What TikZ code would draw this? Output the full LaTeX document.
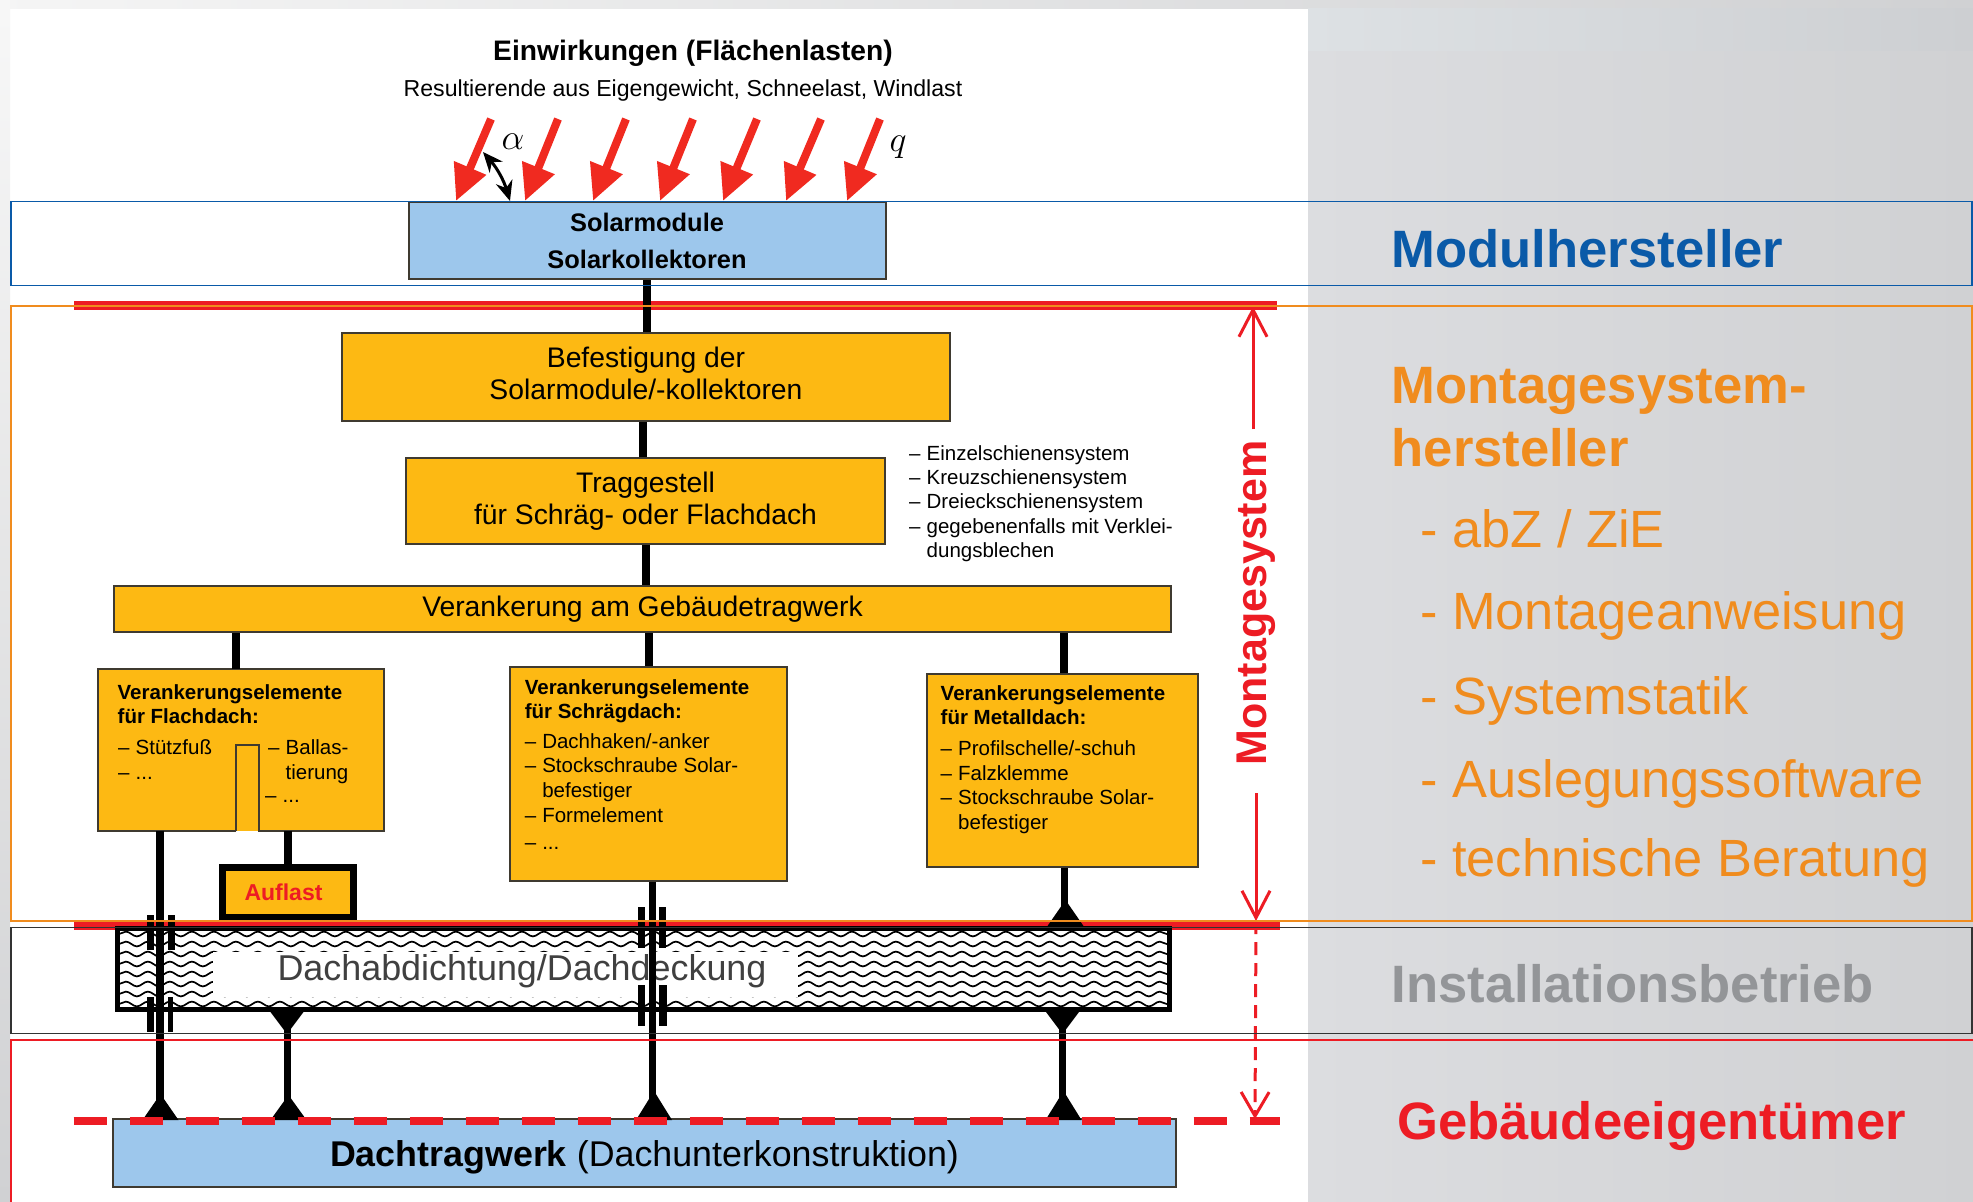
\documentclass[tikz,border=0pt]{standalone}
\usepackage{fontspec}
\setmainfont{Liberation Sans}
\usetikzlibrary{arrows.meta,positioning,calc,decorations.pathmorphing}
\usepackage{xcolor}

\definecolor{boxgelb}{HTML}{FDB913}
\definecolor{boxblau}{HTML}{9DC7EC}
\definecolor{kantengrau}{HTML}{3F3A30}
\definecolor{bandblau}{HTML}{0A5AA8}
\definecolor{bandorange}{HTML}{F08C1E}
\definecolor{bandrot}{HTML}{ED1C24}
\definecolor{bandgrau}{HTML}{939598}
\definecolor{lastrot}{HTML}{F02A20}
\definecolor{panelhell}{HTML}{DCDDE0}
\definecolor{panelmitte}{HTML}{D4D5D8}
\definecolor{paneldunkel}{HTML}{D0D1D3}
\definecolor{kopfhell}{HTML}{DDE1E4}
\definecolor{kopfdunkel}{HTML}{CDCFD2}

\newcommand{\strich}{\makebox[17.5pt][l]{–}}
\newcommand{\einzug}{\hspace*{17.5pt}}
% Fuss, Kerbe und Doppelklemme am Steg
\newcommand{\fuss}[3]{\fill[black] ({#1-18},#3) -- (#1,#2) -- ({#1+18},#3) -- cycle;}
\newcommand{\klemme}[4]{\fill[black] ({#1-14},#2) rectangle ({#1-7},#3);\fill[black] ({#1+7},#2) rectangle ({#1+#4},#3);}

\begin{document}
\begin{tikzpicture}[x=1pt, y=-1pt, >=stealth]
    \tikzstyle{gelbbox} = [rectangle, draw=kantengrau, line width=2pt, fill=boxgelb, inner sep=0pt, align=center, font=\fontsize{28.3}{32.5}\selectfont]
    \tikzstyle{blaubox} = [rectangle, draw=kantengrau, line width=2pt, fill=boxblau, inner sep=0pt, align=center]
    \tikzstyle{liste} = [inner sep=0pt, anchor=north west, align=left, font=\fontsize{20.5}{24.6}\selectfont]
    \tikzstyle{steg} = [black, line width=8pt]
    \tikzstyle{lastpfeil} = [draw=lastrot, line width=8pt, -{Triangle[length=36pt,width=33pt,fill=lastrot]}]
    \tikzstyle{welle} = [black, line width=1.7pt, decorate, decoration={snake, amplitude=2.4pt, segment length=22pt}]
    \tikzstyle{mass} = [bandrot, line width=3pt]
    \tikzstyle{randtitel} = [inner sep=0pt, anchor=base west, font=\fontsize{52.6}{63}\bfseries\selectfont]
    \tikzstyle{randpunkt} = [inner sep=0pt, anchor=base west, text=bandorange, font=\fontsize{52.4}{60}\selectfont]

    \useasboundingbox (0,0) rectangle (1973,1202);

    % Hintergrund
    \fill[white] (0,0) rectangle (1973,1202);
    \shade[left color=white!96!black, right color=paneldunkel] (0,0) rectangle (1973,8);
    \shade[top color=white!97!black, bottom color=paneldunkel] (0,0) rectangle (10,1202);
    \shade[left color=panelhell, middle color=panelmitte, right color=paneldunkel] (1308,8) rectangle (1973,1202);
    \shade[left color=kopfhell, right color=kopfdunkel] (1308,8) rectangle (1973,50);

    % Durchgehende Trennlinien
    \fill[bandrot] (73.5,301) rectangle (1277,309.5);
    \fill[bandrot] (73.5,921) rectangle (1280,930);

    % Titel
    \node[inner sep=0pt, font=\fontsize{28.2}{32}\bfseries\selectfont] (titel) at (693,53.5) {Einwirkungen (Flächenlasten)};
    \node[inner sep=0pt, font=\fontsize{23.1}{28}\selectfont] (untertitel) at (683,90.5) {Resultierende aus Eigengewicht, Schneelast, Windlast};

    % Knoten
    \node[blaubox, minimum width=477pt, minimum height=77pt, font=\fontsize{25.4}{37}\bfseries\selectfont] (solarmodule) at (647,240.5) {Solarmodule\\Solarkollektoren};
    \node[gelbbox, minimum width=608pt, minimum height=88pt] (befestigung) at (646,377) {Befestigung der\\Solarmodule/-kollektoren\\[-24.5pt]\mbox{}};
    \node[gelbbox, minimum width=479pt, minimum height=86pt] (traggestell) at (645.5,501) {Traggestell\\für Schräg- oder Flachdach};
    \node[gelbbox, minimum width=1057pt, minimum height=46pt] (verankerung) at (642.5,609) {Verankerung am Gebäudetragwerk};
    \node[rectangle, fill=boxgelb, minimum width=286pt, minimum height=161.5pt] (flachdach) at (241,750) {};
    \node[gelbbox, minimum width=276.5pt, minimum height=213.5pt] (schraegdach) at (648.7,774) {};
    \node[gelbbox, minimum width=270.5pt, minimum height=193pt] (metalldach) at (1062.7,770.5) {};
    \node[draw=black, line width=7pt, fill=boxgelb, minimum width=131pt, minimum height=50pt, inner sep=0pt, text=bandrot, font=\fontsize{23}{28}\bfseries\selectfont] (auflast) at (287.5,892.5) {\hspace*{-8pt}Auflast};
    \node[blaubox, minimum width=1063pt, minimum height=68pt, font=\fontsize{35.8}{40}\selectfont] (dachtragwerk) at (644.5,1153) {\rule{0pt}{34pt}\textbf{Dachtragwerk} (Dachunterkonstruktion)};

    % Aussparung im Flachdachkasten
    \draw[draw=kantengrau, line width=2pt] (236,0 |- flachdach.south) -- (236,744.5) -- (259,744.5) -- (259,0 |- flachdach.south) -- (flachdach.south east) -- (flachdach.north east) -- (flachdach.north west) -- (flachdach.south west) -- (236,0 |- flachdach.south);

    % Dachabdichtung
    \fill[white] (117,928.5) rectangle (1169,1009.5);
    \foreach \y in {934,944,...,1004}
        \draw[welle] (119,\y) -- (1167,\y);
    \node[fill=white, minimum width=585pt, minimum height=45pt, inner sep=0pt] (abdichtung) at (505.5,974.5) {};
    \node[inner sep=0pt, text=black!75, font=\fontsize{35.9}{40}\selectfont] (abdichtungtext) at (522,971) {Dachabdichtung/Dachdeckung};
    \draw[black, line width=5pt] (117,928.5) rectangle (1169,1009.5);

    % Verbindungen
    \draw[steg] (solarmodule.south) -- (solarmodule.south |- befestigung.north);
    \draw[steg] (643,0 |- befestigung.south) -- (643,0 |- traggestell.north);
    \draw[steg] (646,0 |- traggestell.south) -- (646,0 |- verankerung.north);
    \draw[steg] (235.7,0 |- verankerung.south) -- (235.7,0 |- flachdach.north);
    \draw[steg] (648.7,0 |- verankerung.south) -- (648.7,0 |- schraegdach.north);
    \draw[steg] (1064,0 |- verankerung.south) -- (1064,0 |- metalldach.north);
    \draw[steg] (288,0 |- flachdach.south) -- (288,0 |- auflast.north);
    \draw[steg] (160,0 |- flachdach.south) -- (160,0 |- dachtragwerk.north);
    \draw[steg, line width=7pt] (652,0 |- schraegdach.south) -- (652,0 |- dachtragwerk.north);
    \draw[steg, line width=7pt] (1064.5,0 |- metalldach.south) -- (1064.5,925);
    \draw[steg, line width=7pt] (287.5,1020) -- (287.5,0 |- dachtragwerk.north);
    \draw[steg, line width=7pt] (1062,1020) -- (1062,0 |- dachtragwerk.north);

    % Klemmen und Fuesse
    \klemme{161}{915}{950}{14}
    \klemme{161}{997}{1032}{12}
    \klemme{652}{907}{948}{14}
    \klemme{652}{985}{1026}{15}
    \fuss{160.5}{1094}{1120}
    \fuss{288.5}{1095}{1120}
    \fuss{654}{1091}{1120}
    \fuss{1063.5}{1091}{1120}
    \fuss{1065.5}{900}{926}
    \fuss{287}{1034}{1010}
    \fuss{1062.5}{1034}{1010}

    % Texte in den Kaesten
    \node[liste] (flachtitel) at (117.5,684) {\textbf{Verankerungselemente}\\\textbf{für Flachdach:}};
    \node[liste] (flachlinks) at (118,739.5) {\strich Stützfuß\\\strich ...};
    \node[liste] (flachrechts) at (268,739.5) {\strich Ballas-\\\einzug tierung\\[-1pt]\hspace*{-3pt}\strich ...};
    \node[liste] (schraegliste) at (524.6,679) {\textbf{Verankerungselemente}\\\textbf{für Schrägdach:}\\[5pt]\strich Dachhaken/-anker\\\strich Stockschraube Solar-\\\einzug befestiger\\\strich Formelement\\[3pt]\strich ...};
    \node[liste] (metallliste) at (940.5,685) {\textbf{Verankerungselemente}\\\textbf{für Metalldach:}\\[6.5pt]\strich Profilschelle/-schuh\\\strich Falzklemme\\\strich Stockschraube Solar-\\\einzug befestiger};
    \node[liste, font=\fontsize{20.5}{24.4}\selectfont] (systemliste) at (909,445) {\strich Einzelschienensystem\\\strich Kreuzschienensystem\\\strich Dreieckschienensystem\\\strich gegebenenfalls mit Verklei-\\\einzug dungsblechen};

    % Einwirkungen
    \foreach \xa/\xb in {491/456, 558/525, 626/593, 693/660, 757/723, 821/786, 880/847}
        \draw[lastpfeil] (\xa,119) -- (\xb,0 |- solarmodule.north);
    \draw[black, line width=3pt, {Stealth[length=20pt,width=17pt]}-{Stealth[length=20pt,width=17pt]}] (483,152) to[bend left=12] (510,0 |- solarmodule.north);
    \node[inner sep=0pt, scale=1.45, font=\fontsize{30}{30}\selectfont] (alpha) at (513,142) {$\alpha$};
    \node[inner sep=0pt, scale=1.45, font=\fontsize{30}{30}\selectfont] (q) at (898,147) {$q$};

    % Gestrichelte Linie Dachtragwerk
    \draw[bandrot, line width=8.5pt, dash pattern=on 33pt off 23pt] (73.7,1121) -- (1280,1121);

    % Massstrecke Montagesystem
    \node[rotate=90, anchor=base, inner sep=0pt, outer sep=0pt, text=bandrot, font=\fontsize{43}{46}\bfseries\selectfont] (montagesystem) at (1266,603) {Montagesystem};
    \coordinate (massoben) at (1253,306.5);
    \coordinate (massmitte) at (1256,921);
    \coordinate (massunten) at (1255,1119);
    \draw[mass, -{Straight Barb[length=27pt,width=28pt]}] (1253,429) -- (massoben);
    \draw[mass, -{Straight Barb[length=27pt,width=28pt]}] (1256,793) -- (massmitte);
    \draw[mass, dash pattern=on 13pt off 8pt, -{Straight Barb[length=24pt,width=28pt]}] (massmitte) -- (massunten);

    % Baender
    \draw[bandblau, line width=1.8pt] (11,201.5) rectangle (1972,285.5);
    \draw[bandorange, line width=1.8pt] (11,306) rectangle (1972,921);
    \draw[black!80, line width=1.8pt] (11,927.5) rectangle (1972,1033.5);
    \draw[bandrot, line width=1.8pt] (11,1202) -- (11,1040) -- (1973,1040);

    % Rechte Spalte
    \node[randtitel, text=bandblau] (modulhersteller) at (1391.5,267) {Modulhersteller};
    \node[randtitel, text=bandorange] (montagehersteller) at (1391.5,403) {Montagesystem-};
    \node[randtitel, text=bandorange] (hersteller) at (1391.5,466.5) {hersteller};
    \node[randpunkt] (abz) at (1420,547) {- abZ / ZiE};
    \node[randpunkt] (anweisung) at (1420,629) {- Montageanweisung};
    \node[randpunkt] (statik) at (1420,714) {- Systemstatik};
    \node[randpunkt] (software) at (1420,797) {- Auslegungssoftware};
    \node[randpunkt] (beratung) at (1420,876) {- technische Beratung};
    \node[randtitel, text=bandgrau] (installation) at (1391.5,1002) {Installationsbetrieb};
    \node[randtitel, text=bandrot] (eigentuemer) at (1397,1139) {Gebäudeeigentümer};
\end{tikzpicture}
\end{document}
